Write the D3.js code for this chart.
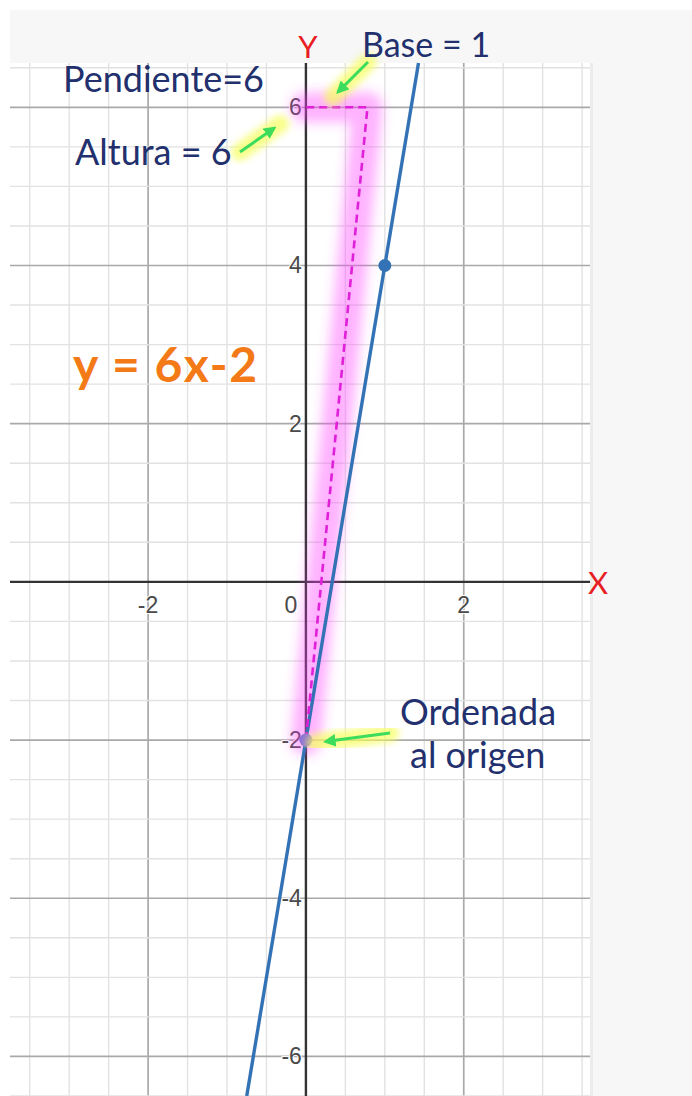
<!DOCTYPE html>
<html>
<head>
<meta charset="utf-8">
<script src="https://cdn.jsdelivr.net/npm/d3@7"></script>
<style>
  html, body { margin: 0; padding: 0; background: #ffffff; }
  svg { display: block; }
</style>
</head>
<body>
<svg id="chart" width="692" height="1096"></svg>
<script>
// Line y = m·x + b
const slope = 6;
const intercept = -2;

// Axis tick labels
const xTickValues = [-2, 0, 2];
const yTickValues = [6, 4, 2, -2, -4, -6];

// Marked points on the line
const linePoints = [[1, 4]];
const interceptPoint = [0, -2];

// Rise/run construction (dashed, highlighted)
const riseRunPath = [[0, -2], [0.78, 6], [0, 6]];

// Text annotations [text, x, y, size]
const noteTexts = [
  ["Pendiente=6", 63, 92, 36],
  ["Base = 1", 362, 57, 34],
  ["Altura = 6", 75, 165, 36],
  ["Ordenada", 400, 725, 36],
  ["al origen", 410, 768, 36]
];

// Arrows [x1, y1, x2, y2] (tail -> head)
const arrows = [
  [368, 62, 333, 97],
  [240, 152, 280, 124],
  [390, 733, 315, 743]
];

const W = 692, H = 1096;
const plot = { left: 10, right: 590, top: 63, bottom: 1096 };

const svg = d3.select("#chart");

// Scales (same pixels per unit on both axes)
const x = d3.scaleLinear().domain([-3.75, 3.6]).range([plot.left, plot.right]);
const y = d3.scaleLinear().domain([6.56, -6.5]).range([plot.top, plot.bottom]);

// Filters
const defs = svg.append("defs");
defs.append("filter").attr("id", "glowPink")
  .attr("x", "-50%").attr("y", "-50%").attr("width", "200%").attr("height", "200%")
  .append("feGaussianBlur").attr("stdDeviation", 6);
defs.append("filter").attr("id", "glowYellow")
  .attr("x", "-50%").attr("y", "-50%").attr("width", "200%").attr("height", "200%")
  .append("feGaussianBlur").attr("stdDeviation", 3.5);
defs.append("filter").attr("id", "soft")
  .append("feGaussianBlur").attr("stdDeviation", 0.5);
defs.append("marker").attr("id", "arrowHead")
  .attr("viewBox", "0 0 10 10").attr("refX", 8).attr("refY", 5)
  .attr("markerWidth", 4.2).attr("markerHeight", 4.2)
  .attr("markerUnits", "strokeWidth")
  .attr("orient", "auto")
  .append("path").attr("d", "M0,0 L10,5 L0,10 Z").attr("fill", "#3ddc5c");

// Page background
svg.append("rect").attr("x", 10).attr("y", 10).attr("width", W - 10).attr("height", H - 10)
  .attr("fill", "#f7f7f7");
svg.append("rect").attr("x", plot.left).attr("y", plot.top)
  .attr("width", plot.right - plot.left).attr("height", plot.bottom - plot.top)
  .attr("fill", "#ffffff");
svg.append("line").attr("x1", plot.right + 1.5).attr("x2", plot.right + 1.5)
  .attr("y1", plot.top).attr("y2", plot.bottom)
  .attr("stroke", "#ececec").attr("stroke-width", 3);

// Grid
const grid = svg.append("g").attr("filter", "url(#soft)");
const xMinor = d3.range(-3.5, 3.6, 0.5);
const yMinor = d3.range(-6.5, 6.6, 0.5);
const isMajor = d => Math.abs(d % 2) < 1e-9;
grid.selectAll("line.vx").data(xMinor).join("line")
  .attr("x1", d => x(d)).attr("x2", d => x(d))
  .attr("y1", plot.top).attr("y2", plot.bottom)
  .attr("stroke", d => (isMajor(d) ? "#a9a9a9" : "#e2e2e2"))
  .attr("stroke-width", d => (isMajor(d) ? 1.7 : 1.4));
grid.selectAll("line.hy").data(yMinor).join("line")
  .attr("x1", plot.left).attr("x2", plot.right)
  .attr("y1", d => y(d)).attr("y2", d => y(d))
  .attr("stroke", d => (isMajor(d) ? "#a9a9a9" : "#e2e2e2"))
  .attr("stroke-width", d => (isMajor(d) ? 1.7 : 1.4));

// Axes
svg.append("line").attr("x1", plot.left).attr("x2", plot.right)
  .attr("y1", y(0)).attr("y2", y(0)).attr("stroke", "#333").attr("stroke-width", 2.4);
svg.append("line").attr("x1", x(0)).attr("x2", x(0))
  .attr("y1", plot.top).attr("y2", plot.bottom).attr("stroke", "#333").attr("stroke-width", 2.4);

// Tick labels
const tickStyle = sel => sel
  .attr("font-family", "'Liberation Sans', Arial, sans-serif")
  .attr("font-size", 23).attr("fill", "#4a4a4a")
  .attr("stroke", "#fff").attr("stroke-width", 2).attr("paint-order", "stroke");
svg.append("g").selectAll("text").data(xTickValues).join("text")
  .attr("x", d => x(d) - (d === 0 ? 15 : 0)).attr("y", y(0) + 31)
  .attr("text-anchor", "middle")
  .text(d => (d < 0 ? "-" + Math.abs(d) : d))
  .call(tickStyle);
svg.append("g").selectAll("text").data(yTickValues).join("text")
  .attr("x", x(0) - 4).attr("y", d => y(d) + 8)
  .attr("text-anchor", "end")
  .text(d => (d < 0 ? "-" + Math.abs(d) : d))
  .call(tickStyle);

// Highlight behind the rise/run construction
const pathGen = d3.line().x(d => x(d[0])).y(d => y(d[1]));
svg.append("path").datum(riseRunPath)
  .attr("d", pathGen).attr("fill", "none")
  .attr("stroke", "#ff3cff").attr("stroke-opacity", 0.4)
  .attr("stroke-width", 30).attr("stroke-linejoin", "round").attr("stroke-linecap", "round")
  .attr("filter", "url(#glowPink)");

// The line y = 6x - 2 across the visible range
const yTop = y.domain()[0], yBot = y.domain()[1];
const lineEnds = [[(yBot - intercept) / slope, yBot], [(yTop - intercept) / slope, yTop]];
svg.append("path").datum(lineEnds)
  .attr("d", pathGen).attr("fill", "none")
  .attr("stroke", "#3373b5").attr("stroke-width", 3.4);

// Dashed construction
svg.append("path").datum(riseRunPath)
  .attr("d", pathGen).attr("fill", "none")
  .attr("stroke", "#e020d8").attr("stroke-width", 2.6)
  .attr("stroke-dasharray", "8,5");

// Points
svg.selectAll("circle.pt").data(linePoints).join("circle")
  .attr("cx", d => x(d[0])).attr("cy", d => y(d[1])).attr("r", 6.5)
  .attr("fill", "#3373b5");
svg.append("circle").attr("cx", x(interceptPoint[0])).attr("cy", y(interceptPoint[1]))
  .attr("r", 6.5).attr("fill", "#8c6fd8");

// Arrows with yellow glow
const ar = svg.append("g");
ar.selectAll("line.glow").data(arrows).join("line")
  .attr("x1", d => d[0]).attr("y1", d => d[1]).attr("x2", d => d[2]).attr("y2", d => d[3])
  .attr("stroke", "#f6ff5a").attr("stroke-opacity", 0.7).attr("stroke-width", 18)
  .attr("stroke-linecap", "round").attr("filter", "url(#glowYellow)");
ar.selectAll("line.arr").data(arrows).join("line")
  .attr("x1", d => d[0]).attr("y1", d => d[1])
  .attr("x2", d => d[0] + (d[2] - d[0]) * 0.86).attr("y2", d => d[1] + (d[3] - d[1]) * 0.86)
  .attr("stroke", "#3ddc5c").attr("stroke-width", 3)
  .attr("marker-end", "url(#arrowHead)");

// Axis names
svg.append("text").attr("x", 308).attr("y", 58).attr("text-anchor", "middle")
  .attr("font-family", "Lato, sans-serif").attr("font-size", 31).attr("fill", "#e81e25")
  .text("Y");
svg.append("text").attr("x", 598).attr("y", 594).attr("text-anchor", "middle")
  .attr("font-family", "Lato, sans-serif").attr("font-size", 31).attr("fill", "#e81e25")
  .text("X");

// Notes
svg.append("g").selectAll("text").data(noteTexts).join("text")
  .attr("x", d => d[1]).attr("y", d => d[2])
  .attr("font-family", "Lato, sans-serif").attr("font-size", d => d[3]).attr("fill", "#22306e")
  .text(d => d[0]);

// Equation
svg.append("text").attr("x", 73).attr("y", 382)
  .attr("font-family", "Lato, sans-serif").attr("font-weight", 700)
  .attr("font-size", 48).attr("fill", "#f37a17")
  .attr("textLength", 184).attr("lengthAdjust", "spacing")
  .text("y = " + slope + "x" + intercept);
</script>
</body>
</html>
